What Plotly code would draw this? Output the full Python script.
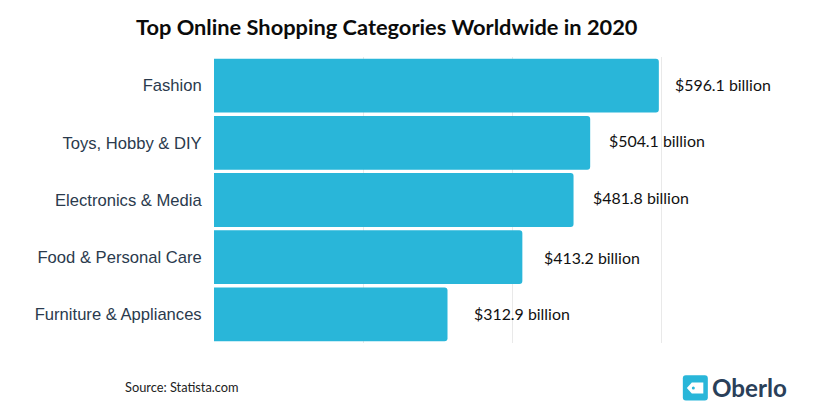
import plotly.graph_objects as go

categories = ["Fashion", "Toys, Hobby & DIY", "Electronics & Media", "Food & Personal Care", "Furniture & Appliances"]
values = [596.1, 504.1, 481.8, 413.2, 312.9]
value_labels = ["$596.1 billion", "$504.1 billion", "$481.8 billion", "$413.2 billion", "$312.9 billion"]
label_gaps = [14.5, 17, 17, 19.5, 24]
label_lifts = [1.5, 2, 2.5, 0, 1]

W, H = 816, 408
L, R, T, B = 214, 811.2, 57.3, 342.7


def px(x):
    return (x - L) / (R - L)


def py(y):
    return 1 - (y - T) / (B - T)


def pos(x, y):
    return f"{px(x):.5f},{py(y):.5f}"


fig = go.Figure(
    go.Bar(
        y=categories,
        x=values,
        orientation="h",
        marker=dict(color="#29b6d9", line=dict(width=0)),
        hoverinfo="skip",
    )
)

annotations = [
    dict(
        x=v, y=c, xref="x", yref="y", text=t, showarrow=False, xanchor="left",
        xshift=g, yshift=s, font=dict(family="Lato, sans-serif", size=15.9, color="#111111"),
    )
    for c, v, t, g, s in zip(categories, values, value_labels, label_gaps, label_lifts)
]
annotations += [
    dict(
        x=px(387.5), y=py(26.5), xref="paper", yref="paper", text="<b>Top Online Shopping Categories Worldwide in 2020</b>",
        showarrow=False, xanchor="center", yanchor="middle",
        font=dict(family="Lato, sans-serif", size=21.8, color="#0b0b0b"),
    ),
    dict(
        x=px(125), y=py(386.5), xref="paper", yref="paper", text="Source: Statista.com",
        showarrow=False, xanchor="left", yanchor="middle", xshift=-2,
        font=dict(family="Lato, sans-serif", size=12.8, color="#222222"),
    ),
    dict(
        x=px(712), y=py(387.5), xref="paper", yref="paper", text="<b>Oberlo</b>",
        showarrow=False, xanchor="left", yanchor="middle", xshift=-2,
        font=dict(family="Lato, sans-serif", size=24.2, color="#2a4059"),
    ),
]

shapes = [
    dict(
        type="path", xref="paper", yref="paper", fillcolor="#29b6d9", line_width=0,
        path=(
            f"M {pos(686,375)} L {pos(705,375)} Q {pos(708,375)} {pos(708,378)} "
            f"L {pos(708,397)} Q {pos(708,400)} {pos(705,400)} L {pos(686,400)} "
            f"Q {pos(683,400)} {pos(683,397)} L {pos(683,378)} Q {pos(683,375)} {pos(686,375)} Z"
        ),
    ),
    dict(
        type="path", xref="paper", yref="paper", fillcolor="#ffffff", line_width=0,
        path=f"M {pos(687,387.5)} L {pos(692,382)} L {pos(703.5,382)} L {pos(703.5,393)} L {pos(692,393)} Z",
    ),
    dict(
        type="circle", xref="paper", yref="paper", fillcolor="#29b6d9", line_width=0,
        x0=px(692), x1=px(695), y0=py(386), y1=py(389),
    ),
]

fig.update_layout(
    width=W, height=H,
    margin=dict(l=L, r=W - R, t=T, b=H - B, pad=0),
    paper_bgcolor="white", plot_bgcolor="white",
    bargap=0.06, showlegend=False,
    annotations=annotations, shapes=shapes,
    barcornerradius=3,
    xaxis=dict(
        range=[0, 800], tickvals=[200, 400, 600], showticklabels=False,
        showgrid=True, gridcolor="#e9e9e9", gridwidth=1, zeroline=False, showline=False, ticks="",
    ),
    yaxis=dict(
        autorange="reversed", categoryorder="array", categoryarray=categories,
        tickfont=dict(family="Liberation Sans, Arial, sans-serif", size=16.6, color="#2a3a4d"),
        ticks="outside", ticklen=8, tickcolor="rgba(0,0,0,0)", showgrid=False, zeroline=False, showline=False,
    ),
)

fig.write_html(
    "out.html",
    config={"displayModeBar": False},
    post_script="document.body.style.margin='0';document.body.style.overflow='hidden';",
)
